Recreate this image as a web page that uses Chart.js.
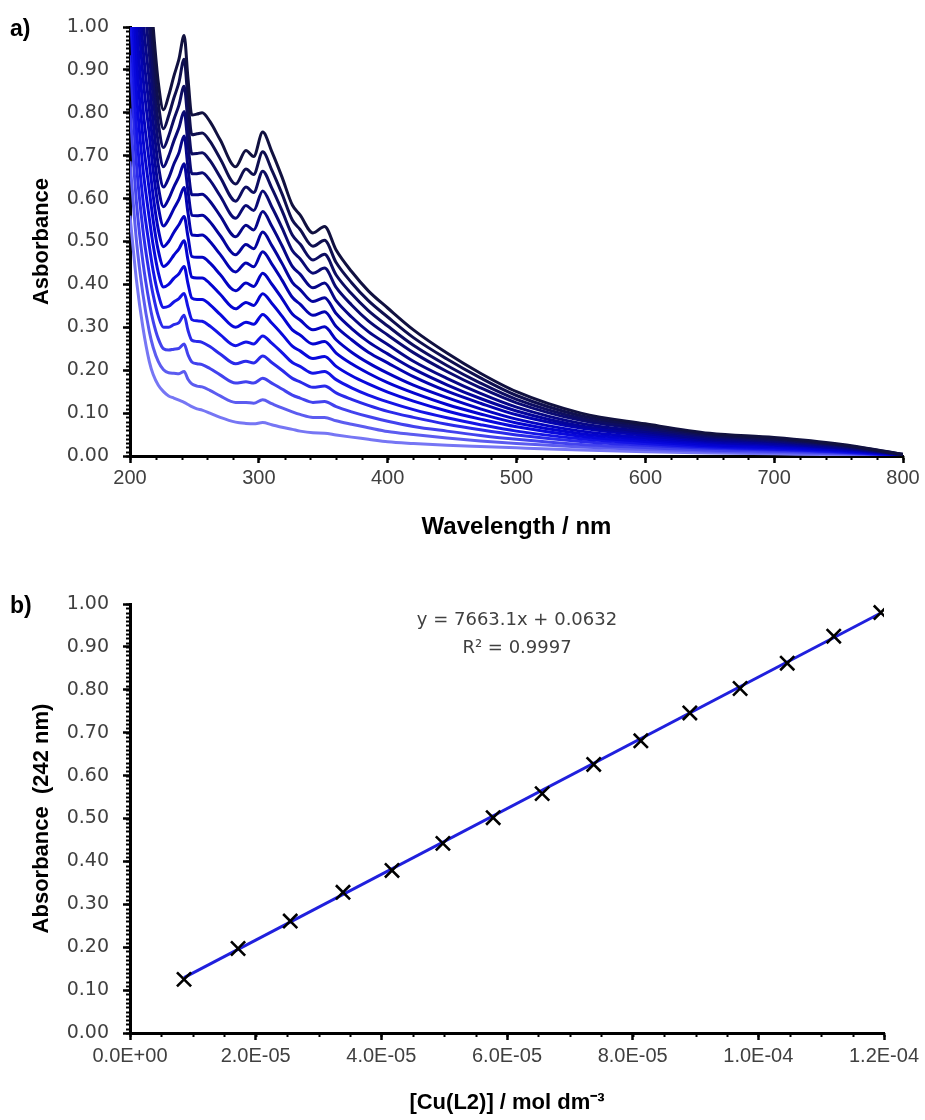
<!DOCTYPE html>
<html>
<head>
<meta charset="utf-8">
<title>Cu(L2) absorbance</title>
<script src="https://cdn.jsdelivr.net/npm/chart.js@4.4.1/dist/chart.umd.min.js"></script>
<style>
  html, body { margin: 0; padding: 0; background: #fff; }
  #wrap { position: relative; width: 925px; height: 1120px; }
  #specChart { position: absolute; left: 0; top: 0; }
  #calChart { position: absolute; left: 0; top: 560px; }
</style>
</head>
<body>
<div id="wrap">
  <canvas id="specChart" width="925" height="545"></canvas>
  <canvas id="calChart" width="925" height="560"></canvas>
</div>
<script>
// --- Data: a) spectra, lowest concentration first ---
const wavelengths = [200, 205, 210, 215, 218, 222, 226, 230, 234, 238, 242, 245, 248, 252, 256, 262, 270, 282, 290, 296,
  303, 310, 318, 326, 332, 342, 351, 360, 372, 385, 400, 420, 446, 472, 500, 550, 600, 650, 700, 750, 800];

const abs01 = [.56, .41, .30, .22, .19, .165, .15, .14, .135, .13, .125, .12, .115, .11, .107, .10, .09, .079, .076, .075,
  .078, .073, .067, .062, .058, .054, .053, .049, .044, .039, .033, .029, .025, .022, .019, .014, .010, .007, .005, .003, .000];
const abs02 = [.687, .502, .378, .290, .253, .220, .201, .194, .193, .192, .197, .179, .168, .163, .161, .153, .140, .125, .125, .123,
  .131, .122, .112, .103, .097, .090, .090, .082, .074, .066, .057, .050, .042, .035, .029, .021, .015, .011, .008, .005, .000];
const abs03 = [.810, .592, .453, .357, .314, .273, .250, .247, .249, .251, .261, .236, .219, .215, .213, .204, .189, .170, .173, .170,
  .181, .170, .156, .142, .135, .125, .127, .115, .103, .092, .081, .069, .058, .048, .039, .027, .020, .014, .011, .007, .001];
const abs04 = [.934, .682, .528, .425, .375, .326, .300, .300, .306, .311, .328, .293, .270, .267, .265, .255, .238, .215, .221, .217,
  .233, .218, .200, .181, .173, .160, .163, .147, .132, .118, .104, .090, .074, .061, .049, .034, .025, .018, .014, .009, .001];
const abs05 = [1.050, .765, .599, .489, .432, .376, .346, .349, .359, .367, .379, .347, .318, .315, .314, .303, .283, .257, .266, .261,
  .280, .263, .241, .218, .209, .193, .197, .178, .159, .142, .126, .108, .089, .073, .058, .040, .029, .021, .016, .010, .001];
const abs06 = [1.169, .852, .672, .554, .491, .427, .394, .400, .414, .425, .442, .402, .368, .365, .365, .353, .330, .300, .312, .307,
  .330, .310, .284, .256, .245, .227, .232, .209, .187, .168, .149, .128, .105, .086, .068, .046, .034, .024, .019, .012, .001];
const abs07 = [1.288, .938, .744, .619, .549, .478, .442, .451, .468, .483, .502, .457, .417, .415, .415, .402, .377, .343, .358, .351,
  .378, .356, .326, .294, .282, .261, .267, .240, .215, .193, .171, .147, .120, .098, .077, .052, .039, .027, .022, .014, .002];
const abs08 = [1.403, 1.022, .814, .683, .606, .527, .488, .500, .521, .539, .558, .511, .465, .463, .463, .450, .423, .385, .403, .395,
  .426, .401, .367, .331, .317, .294, .301, .271, .242, .217, .193, .165, .136, .110, .086, .058, .043, .031, .025, .016, .002];
const abs09 = [1.524, 1.110, .888, .749, .666, .580, .536, .552, .576, .598, .626, .567, .515, .514, .515, .500, .470, .429, .450, .441,
  .476, .448, .410, .370, .354, .328, .336, .302, .271, .242, .217, .185, .151, .123, .096, .065, .048, .034, .027, .018, .002];
const abs10 = [1.635, 1.190, .956, .810, .721, .627, .581, .599, .627, .651, .681, .618, .561, .560, .561, .546, .514, .469, .493, .483,
  .522, .491, .449, .405, .388, .360, .369, .332, .297, .266, .238, .203, .166, .134, .105, .070, .053, .037, .030, .019, .003];
const abs11 = [1.751, 1.274, 1.026, .873, .778, .677, .627, .648, .680, .707, .746, .672, .609, .609, .610, .594, .560, .511, .538, .527,
  .570, .536, .490, .442, .424, .392, .403, .362, .324, .290, .260, .221, .181, .146, .114, .076, .057, .040, .033, .021, .003];
const abs12 = [1.869, 1.360, 1.098, .938, .837, .728, .674, .699, .734, .765, .803, .727, .658, .658, .660, .643, .606, .554, .584, .572,
  .618, .581, .532, .479, .460, .426, .438, .393, .352, .315, .282, .241, .197, .159, .124, .083, .062, .044, .035, .023, .003];
const abs13 = [1.980, 1.440, 1.166, .999, .891, .775, .719, .746, .784, .818, .862, .778, .704, .705, .707, .689, .650, .594, .627, .614,
  .664, .625, .572, .515, .494, .457, .470, .422, .378, .339, .303, .258, .211, .170, .132, .088, .066, .047, .038, .025, .003];
const abs14 = [2.089, 1.520, 1.233, 1.059, .945, .822, .763, .793, .834, .871, .925, .829, .749, .751, .753, .734, .693, .634, .669, .656,
  .709, .667, .611, .550, .528, .489, .503, .451, .404, .362, .324, .276, .226, .182, .141, .094, .071, .050, .040, .026, .004];
const abs15 = [2.2, 1.6, 1.3, 1.12, 1.0, .87, .807, .84, .885, .925, .98, .88, .795, .797, .80, .78, .737, .674, .712, .698,
  .755, .71, .65, .585, .562, .52, .535, .48, .43, .385, .345, .294, .24, .193, .15, .10, .075, .053, .043, .028, .004];

const lineColors = ['#7676f4', '#5c5cf0', '#4242ee', '#2a2aea', '#1414e6', '#0808dc', '#0404d0', '#0303c2',
  '#0303b0', '#04049c', '#060688', '#0a0a74', '#0d0d62', '#0f0f50', '#111140'];

// --- Data: b) calibration at 242 nm ---
const concentrations = [8.6e-6, 1.72e-5, 2.55e-5, 3.39e-5, 4.17e-5, 4.98e-5, 5.78e-5, 6.56e-5, 7.38e-5, 8.13e-5,
  8.91e-5, 9.71e-5, 1.046e-4, 1.12e-4, 1.195e-4];
const absorbance242 = [.125, .197, .261, .328, .379, .442, .502, .558, .626, .681, .746, .803, .862, .925, .980];
const trendSlope = 7663.1;
const trendIntercept = 0.0632;

const yTicks = [0, 0.1, 0.2, 0.3, 0.4, 0.5, 0.6, 0.7, 0.8, 0.9, 1.0];

// --- Shared styling ---
const tickColor = '#404040';
const yTickFont = { family: "'DejaVu Sans', sans-serif", size: 19 };
const xTickFont = { family: "'Liberation Sans', Arial, sans-serif", size: 20 };
const titleFamily = "'Liberation Sans', Arial, sans-serif";

// Small ticks between the labelled ones
const minorTicks = {
  id: 'minorTicks',
  afterDraw(chart, args, opts) {
    const { ctx, chartArea, scales } = chart;
    ctx.save();
    ctx.strokeStyle = '#000';
    ctx.lineWidth = 2;
    ctx.beginPath();
    const ny = Math.round((scales.y.max - scales.y.min) / opts.yStep);
    for (let i = 0; i <= ny; i++) {
      const py = Math.round(scales.y.getPixelForValue(scales.y.min + i * opts.yStep)) + 0.5;
      ctx.moveTo(chartArea.left, py);
      ctx.lineTo(chartArea.left - opts.len, py);
    }
    const nx = Math.round((scales.x.max - scales.x.min) / opts.xStep);
    for (let i = 0; i <= nx; i++) {
      const px = Math.round(scales.x.getPixelForValue(scales.x.min + i * opts.xStep)) + 0.5;
      ctx.moveTo(px, chartArea.bottom);
      ctx.lineTo(px, chartArea.bottom + opts.len);
    }
    ctx.stroke();
    ctx.restore();
  }
};

// Panel letter and free text
const notes = {
  id: 'notes',
  afterDraw(chart, args, opts) {
    const ctx = chart.ctx;
    ctx.save();
    ctx.textBaseline = 'middle';
    ctx.fillStyle = '#000';
    ctx.font = `bold 23px ${titleFamily}`;
    ctx.textAlign = 'left';
    ctx.fillText(opts.panel, 10, opts.panelY);
    if (opts.lines) {
      ctx.fillStyle = tickColor;
      ctx.font = "18px 'DejaVu Sans', sans-serif";
      ctx.textAlign = 'center';
      opts.lines.forEach((t, i) => ctx.fillText(t, opts.cx, opts.cy + i * 28));
    }
    ctx.restore();
  }
};

function axisY(titleText) {
  return {
    type: 'linear',
    min: 0,
    max: 1,
    afterFit: (scale) => { scale.width = 130; },
    afterBuildTicks: (scale) => { scale.ticks = yTicks.map(v => ({ value: v })); },
    border: { color: '#000', width: 3 },
    grid: { drawOnChartArea: false, tickLength: 7, tickWidth: 2.5, tickColor: '#000' },
    ticks: { color: tickColor, font: yTickFont, padding: 14, callback: v => v.toFixed(2) },
    title: { display: true, text: titleText, color: '#000', font: { family: titleFamily, size: 22, weight: 'bold' }, padding: { top: 29 } }
  };
}

// --- Chart a) spectra ---
const spectra = [abs01, abs02, abs03, abs04, abs05, abs06, abs07, abs08, abs09, abs10, abs11, abs12, abs13, abs14, abs15];

new Chart(document.getElementById('specChart'), {
  type: 'line',
  data: {
    datasets: spectra.map((vals, i) => ({
      data: vals.map((a, j) => ({ x: wavelengths[j], y: a })),
      borderColor: lineColors[i],
      borderWidth: 3,
      pointRadius: 0,
      cubicInterpolationMode: 'monotone',
      fill: false,
      order: spectra.length - i
    }))
  },
  options: {
    responsive: false,
    animation: false,
    layout: { padding: { top: 27, right: 22, left: 0, bottom: 0 } },
    plugins: {
      legend: { display: false },
      tooltip: { enabled: false },
      minorTicks: { xStep: 20, yStep: 0.01, len: 4 },
      notes: { panel: 'a)', panelY: 30 }
    },
    scales: {
      x: {
        type: 'linear',
        min: 200,
        max: 800,
        afterFit: (scale) => { scale.height = 89; },
        border: { color: '#000', width: 3 },
        grid: { drawOnChartArea: false, tickLength: 7, tickWidth: 2.5, tickColor: '#000' },
        ticks: { stepSize: 100, color: tickColor, font: xTickFont, padding: 3 },
        title: { display: true, text: 'Wavelength / nm', color: '#000', font: { family: titleFamily, size: 24, weight: 'bold' }, padding: { bottom: 3 } }
      },
      y: axisY('Asborbance')
    }
  },
  plugins: [minorTicks, notes]
});

// --- Chart b) calibration ---
function sciLabel(v) {
  const [m, e] = Number(v).toExponential(1).split('e');
  const n = parseInt(e, 10);
  return `${m}E${n < 0 ? '-' : '+'}${String(Math.abs(n)).padStart(2, '0')}`;
}

const calPoints = concentrations.map((c, i) => ({ x: c, y: absorbance242[i] }));
const cMin = concentrations[0];
const cMax = concentrations[concentrations.length - 1];
const trendPoints = [
  { x: cMin, y: trendSlope * cMin + trendIntercept },
  { x: cMax, y: trendSlope * cMax + trendIntercept }
];

new Chart(document.getElementById('calChart'), {
  type: 'scatter',
  data: {
    datasets: [
      {
        data: calPoints,
        pointStyle: 'crossRot',
        pointRadius: 10,
        borderColor: '#000',
        backgroundColor: '#000',
        borderWidth: 2.6,
        order: 0
      },
      {
        data: trendPoints,
        showLine: true,
        borderColor: '#2020dd',
        borderWidth: 3,
        pointRadius: 0,
        order: 1
      }
    ]
  },
  options: {
    responsive: false,
    animation: false,
    layout: { padding: { top: 44, right: 41, left: 0, bottom: 0 } },
    plugins: {
      legend: { display: false },
      tooltip: { enabled: false },
      minorTicks: { xStep: 5e-6, yStep: 0.01, len: 4 },
      notes: { panel: 'b)', panelY: 47, lines: ['y = 7663.1x + 0.0632', 'R\u00b2 = 0.9997'], cx: 517, cy: 60 }
    },
    scales: {
      x: {
        type: 'linear',
        min: 0,
        max: 1.2e-4,
        afterFit: (scale) => { scale.height = 87; },
        border: { color: '#000', width: 3 },
        grid: { drawOnChartArea: false, tickLength: 7, tickWidth: 2.5, tickColor: '#000' },
        ticks: { stepSize: 2e-5, color: tickColor, font: xTickFont, padding: 4, callback: sciLabel },
        title: { display: true, text: '[Cu(L2)] / mol dm\u207b\u00b3', color: '#000', font: { family: titleFamily, size: 22, weight: 'bold' }, padding: { bottom: 4 } }
      },
      y: axisY('Absorbance  (242 nm)')
    }
  },
  plugins: [minorTicks, notes]
});
</script>
</body>
</html>
